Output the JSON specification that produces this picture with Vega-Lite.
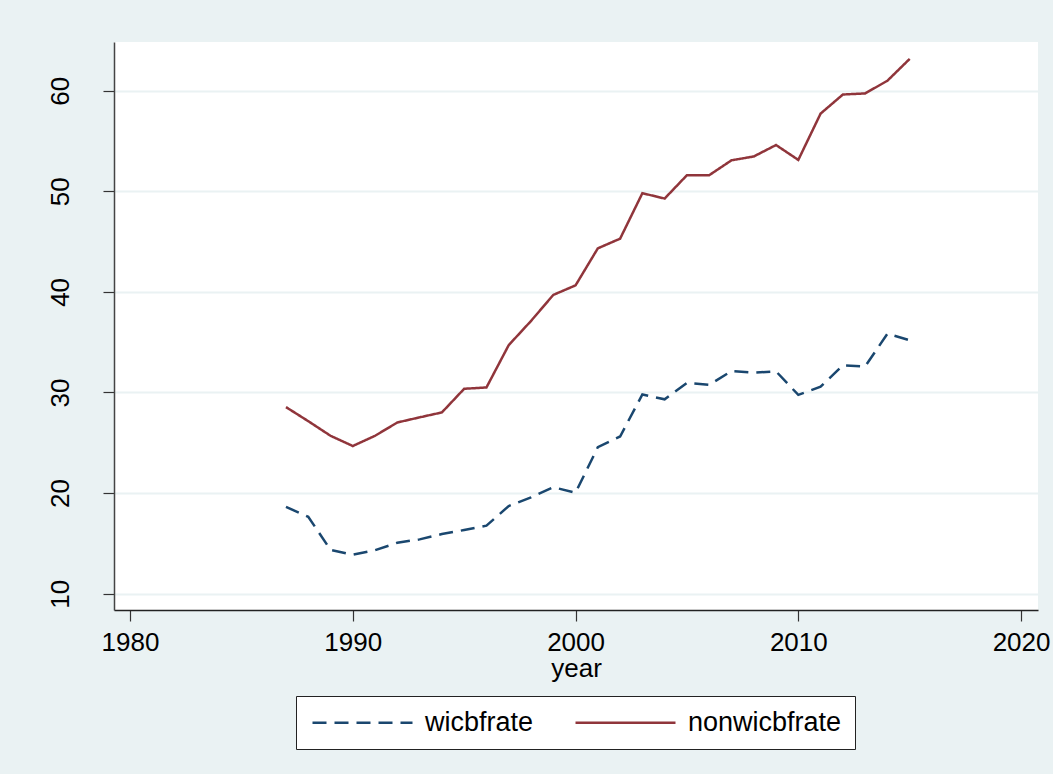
{
  "$schema": "https://vega.github.io/schema/vega-lite/v6.json",
  "width": 924,
  "height": 568,
  "autosize": {"type": "none"},
  "padding": {"left": 114, "top": 42, "right": 15, "bottom": 164},
  "background": "#EAF2F3",
  "config": {
    "view": {"fill": "white", "stroke": null},
    "font": "Liberation Sans",
    "legend": {
      "orient": "none",
      "legendX": 182,
      "legendY": 654,
      "direction": "horizontal",
      "strokeColor": "#222222",
      "fillColor": "white",
      "padding": 13,
      "symbolType": "M-5,0H5",
      "symbolSize": 400,
      "symbolOffset": 40,
      "symbolStrokeWidth": 2.5,
      "labelFontSize": 27,
      "labelColor": "black",
      "labelOffset": 49,
      "columnPadding": 36,
      "title": null
    }
  },
  "data": {
    "values": [
      {"year": 1987, "series": "wicbfrate", "value": 18.63},
      {"year": 1988, "series": "wicbfrate", "value": 17.65},
      {"year": 1989, "series": "wicbfrate", "value": 14.35},
      {"year": 1990, "series": "wicbfrate", "value": 13.88},
      {"year": 1991, "series": "wicbfrate", "value": 14.32},
      {"year": 1992, "series": "wicbfrate", "value": 15.07},
      {"year": 1993, "series": "wicbfrate", "value": 15.4},
      {"year": 1994, "series": "wicbfrate", "value": 15.93},
      {"year": 1995, "series": "wicbfrate", "value": 16.33},
      {"year": 1996, "series": "wicbfrate", "value": 16.76},
      {"year": 1997, "series": "wicbfrate", "value": 18.72},
      {"year": 1998, "series": "wicbfrate", "value": 19.58},
      {"year": 1999, "series": "wicbfrate", "value": 20.58},
      {"year": 2000, "series": "wicbfrate", "value": 20.04},
      {"year": 2001, "series": "wicbfrate", "value": 24.56},
      {"year": 2002, "series": "wicbfrate", "value": 25.63},
      {"year": 2003, "series": "wicbfrate", "value": 29.81},
      {"year": 2004, "series": "wicbfrate", "value": 29.32},
      {"year": 2005, "series": "wicbfrate", "value": 30.95},
      {"year": 2006, "series": "wicbfrate", "value": 30.76},
      {"year": 2007, "series": "wicbfrate", "value": 32.13},
      {"year": 2008, "series": "wicbfrate", "value": 31.98},
      {"year": 2009, "series": "wicbfrate", "value": 32.1},
      {"year": 2010, "series": "wicbfrate", "value": 29.76},
      {"year": 2011, "series": "wicbfrate", "value": 30.57},
      {"year": 2012, "series": "wicbfrate", "value": 32.7},
      {"year": 2013, "series": "wicbfrate", "value": 32.59},
      {"year": 2014, "series": "wicbfrate", "value": 35.84},
      {"year": 2015, "series": "wicbfrate", "value": 35.2},
      {"year": 1987, "series": "nonwicbfrate", "value": 28.55},
      {"year": 1988, "series": "nonwicbfrate", "value": 27.15},
      {"year": 1989, "series": "nonwicbfrate", "value": 25.7},
      {"year": 1990, "series": "nonwicbfrate", "value": 24.68},
      {"year": 1991, "series": "nonwicbfrate", "value": 25.7},
      {"year": 1992, "series": "nonwicbfrate", "value": 27.02},
      {"year": 1993, "series": "nonwicbfrate", "value": 27.53},
      {"year": 1994, "series": "nonwicbfrate", "value": 28.02},
      {"year": 1995, "series": "nonwicbfrate", "value": 30.37},
      {"year": 1996, "series": "nonwicbfrate", "value": 30.5},
      {"year": 1997, "series": "nonwicbfrate", "value": 34.71},
      {"year": 1998, "series": "nonwicbfrate", "value": 37.11},
      {"year": 1999, "series": "nonwicbfrate", "value": 39.7},
      {"year": 2000, "series": "nonwicbfrate", "value": 40.65},
      {"year": 2001, "series": "nonwicbfrate", "value": 44.33},
      {"year": 2002, "series": "nonwicbfrate", "value": 45.29},
      {"year": 2003, "series": "nonwicbfrate", "value": 49.81},
      {"year": 2004, "series": "nonwicbfrate", "value": 49.28},
      {"year": 2005, "series": "nonwicbfrate", "value": 51.6},
      {"year": 2006, "series": "nonwicbfrate", "value": 51.6},
      {"year": 2007, "series": "nonwicbfrate", "value": 53.08},
      {"year": 2008, "series": "nonwicbfrate", "value": 53.46},
      {"year": 2009, "series": "nonwicbfrate", "value": 54.6},
      {"year": 2010, "series": "nonwicbfrate", "value": 53.12},
      {"year": 2011, "series": "nonwicbfrate", "value": 57.72},
      {"year": 2012, "series": "nonwicbfrate", "value": 59.62},
      {"year": 2013, "series": "nonwicbfrate", "value": 59.73},
      {"year": 2014, "series": "nonwicbfrate", "value": 60.99},
      {"year": 2015, "series": "nonwicbfrate", "value": 63.16}
    ]
  },
  "mark": {"type": "line", "strokeWidth": 2.5},
  "encoding": {
    "x": {
      "field": "year",
      "type": "quantitative",
      "scale": {"domain": [1979.28, 2020.76], "nice": false, "zero": false},
      "axis": {
        "values": [1980, 1990, 2000, 2010, 2020],
        "format": "d",
        "title": "year",
        "grid": false,
        "tickSize": 11,
        "tickColor": "#333333",
        "tickWidth": 1.2,
        "domainColor": "#222222",
        "domainWidth": 1.5,
        "labelFontSize": 26,
        "labelColor": "black",
        "labelPadding": 8,
        "labelFlush": false,
        "titleFontSize": 26,
        "titleFontWeight": "normal",
        "titleColor": "black",
        "titlePadding": 0
      }
    },
    "y": {
      "field": "value",
      "type": "quantitative",
      "scale": {"domain": [8.38, 64.84], "nice": false, "zero": false},
      "axis": {
        "values": [10, 20, 30, 40, 50, 60],
        "title": null,
        "grid": true,
        "gridColor": "#EAF2F3",
        "gridWidth": 2,
        "tickSize": 11,
        "tickColor": "#333333",
        "tickWidth": 1.2,
        "domainColor": "#444444",
        "domainWidth": 1.5,
        "labelAngle": 270,
        "labelFontSize": 26,
        "labelColor": "black",
        "labelPadding": 30,
        "labelFlush": false
      }
    },
    "color": {
      "field": "series",
      "type": "nominal",
      "scale": {"domain": ["wicbfrate", "nonwicbfrate"], "range": ["#1A476F", "#90353B"]}
    },
    "strokeDash": {
      "field": "series",
      "type": "nominal",
      "scale": {"domain": ["wicbfrate", "nonwicbfrate"], "range": [[14, 8], [1, 0]]}
    }
  }
}
